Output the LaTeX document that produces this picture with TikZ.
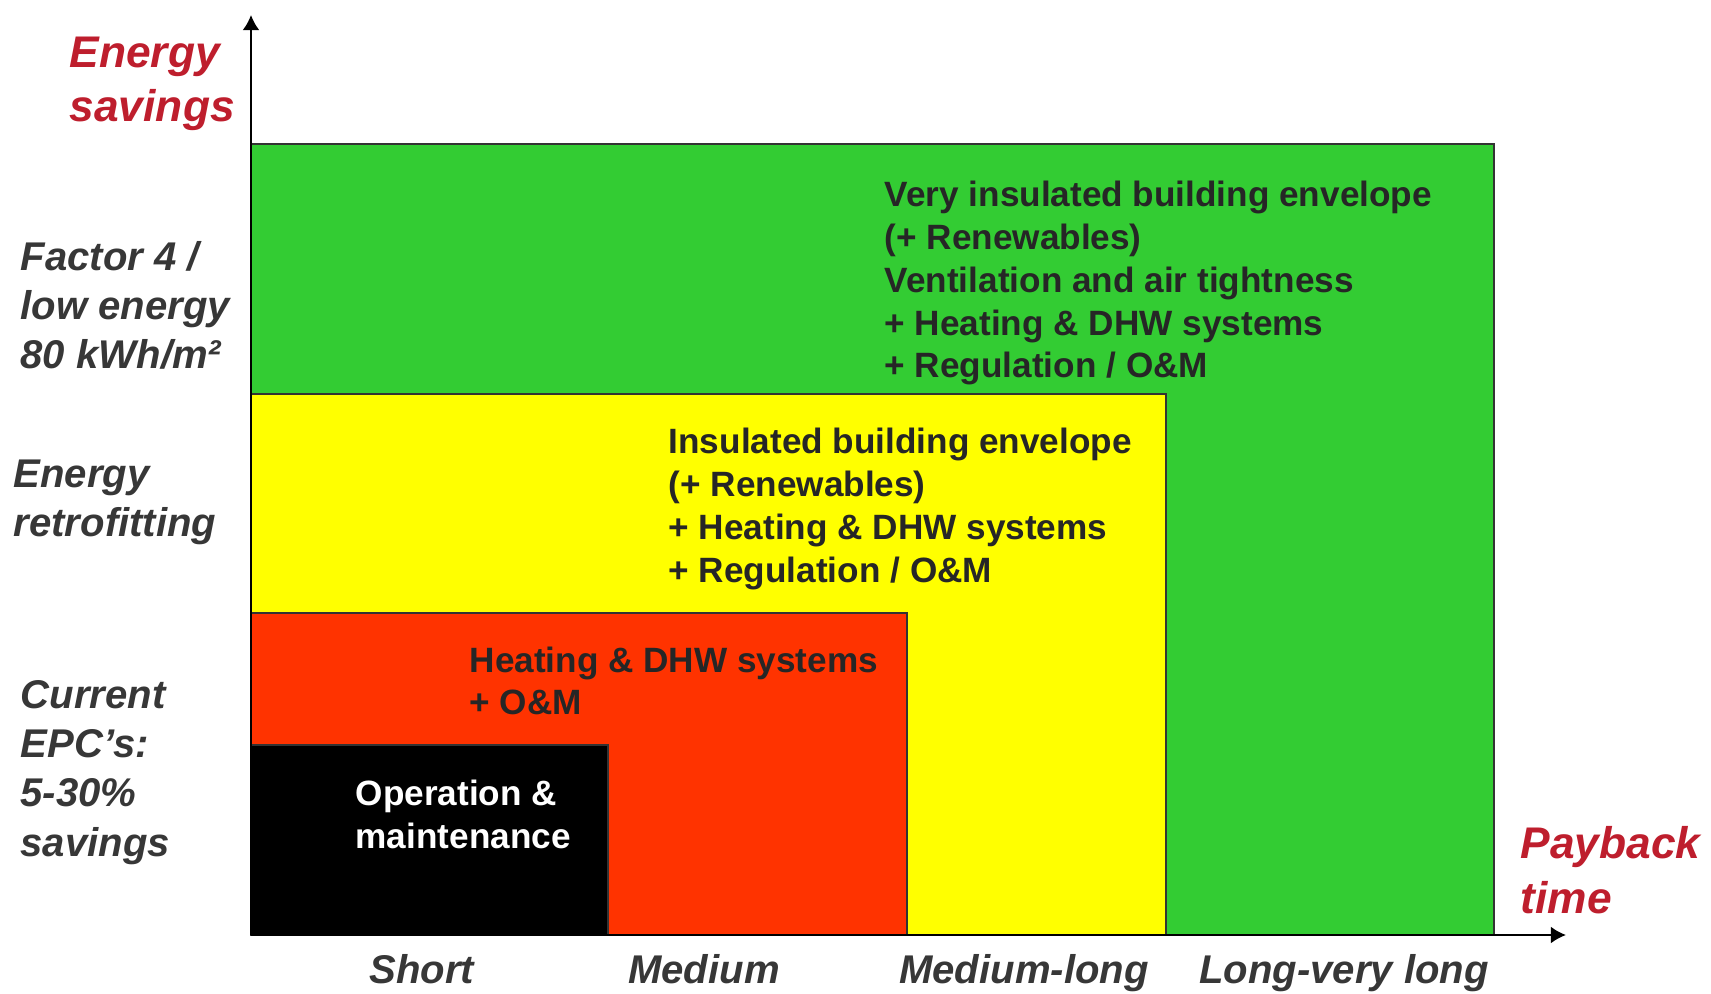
\documentclass[tikz,border=0pt]{standalone}
\usepackage{fontspec}
\setmainfont{Liberation Sans}
\usetikzlibrary{arrows.meta}
\definecolor{savegreen}{RGB}{51,204,51}
\definecolor{saveyellow}{RGB}{255,255,0}
\definecolor{savered}{RGB}{255,51,0}
\definecolor{axisred}{RGB}{190,30,45}
\definecolor{labelgray}{RGB}{55,55,55}
\tikzset{
  box/.style={draw=black!80, line width=0.6pt},
  axisline/.style={line width=0.6pt, -{Latex[length=4.3pt, width=4.8pt]}},
  boxtext/.style={anchor=base west, inner sep=0pt, align=left,
    font=\fontsize{10}{12.2}\selectfont\bfseries, text=black!85},
  sidetext/.style={anchor=base west, inner sep=0pt, align=left,
    font=\fontsize{11.4}{14}\selectfont\bfseries\itshape, text=labelgray},
  axistext/.style={anchor=base west, inner sep=0pt, align=left,
    font=\fontsize{12.6}{15.6}\selectfont\bfseries\itshape, text=axisred},
}

\begin{document}
\begin{tikzpicture}[x=0.01cm, y=-0.01cm]
  \useasboundingbox (0,0) rectangle (1711,994);
  %%%%% START %%%%%
  \draw[box, fill=savegreen] (251,144) rectangle (1494,935);
  \draw[box, fill=saveyellow] (251,394) rectangle (1166,935);
  \draw[box, fill=savered] (251,613) rectangle (907,935);
  \draw[box, fill=black] (251,745) rectangle (608,935);

  \coordinate (origin) at (251,935);
  \coordinate (ytip) at (251,15);
  \coordinate (xtip) at (1566,935);
  \draw[axisline] (origin) -- (ytip);
  \draw[axisline] (origin) -- (xtip);

  % multi-line nodes: base is the last line
  \node[boxtext] (green) at (884,378) {Very insulated building envelope\\(+ Renewables)\\Ventilation and air tightness\\+ Heating \& DHW systems\\+ Regulation / O\&M};
  \node[boxtext] (yellow) at (668,582) {Insulated building envelope\\(+ Renewables)\\+ Heating \& DHW systems\\+ Regulation / O\&M};
  \node[boxtext] (red) at (469,715) {Heating \& DHW systems\\+ O\&M};
  \node[boxtext, text=white] (black) at (355,848) {Operation \&\\maintenance};

  \node[axistext] (ylabel) at (69,122) {Energy\\savings};
  \node[axistext] (xlabel) at (1520,913) {Payback\\time};

  \node[sidetext] (factor) at (20,369) {Factor 4 /\\low energy\\80 kWh/m²};
  \node[sidetext] (retro) at (13,537) {Energy\\retrofitting};
  \node[sidetext] (epc) at (20,856) {Current\\EPC’s:\\5-30\%\\savings};

  \node[sidetext, anchor=base] (short) at (422,983) {Short};
  \node[sidetext, anchor=base] (medium) at (704,983) {Medium};
  \node[sidetext, anchor=base] (medlong) at (1024,983) {Medium-long};
  \node[sidetext, anchor=base] (verylong) at (1344,983) {Long-very long};
  %%%%% END %%%%%
\end{tikzpicture}
\end{document}
